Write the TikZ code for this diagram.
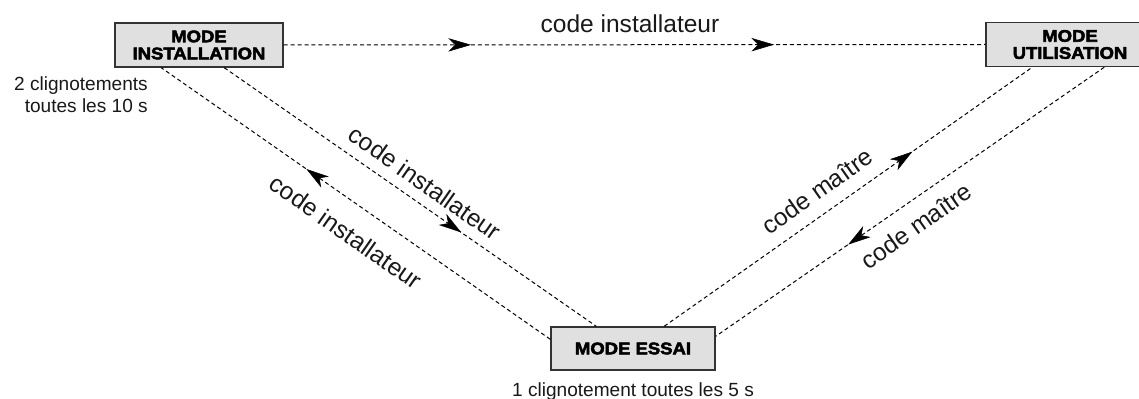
\documentclass[tikz,border=0pt]{standalone}
\usepackage{fontspec}
\setmainfont{Liberation Sans}
\newfontfamily\boxfont{Liberation Sans}[FakeStretch=1.1,BoldFeatures={FakeBold=3}]
\usetikzlibrary{arrows.meta,decorations.markings,calc}
\tikzset{
  modebox/.style={draw=black!80,line width=1.1pt,fill=black!12,minimum height=33pt,
    inner sep=0pt,align=center,font=\boxfont\bfseries\fontsize{12.6pt}{12.8pt}\selectfont},
  conn/.style={line width=0.75pt,draw=black,dash pattern=on 3pt off 2.2pt},
  tipshape/.tip={Stealth[length=17pt,width=10pt,inset=5pt,line width=0.4pt]},
  midarrow/.style={postaction={decorate},decoration={markings,
    mark=at position #1 with {\pgfsetdash{}{0pt}\arrow{tipshape}}}},
  midarrows/.style 2 args={postaction={decorate},decoration={markings,
    mark=at position #1 with {\pgfsetdash{}{0pt}\arrow{tipshape}},
    mark=at position #2 with {\pgfsetdash{}{0pt}\arrow{tipshape}}}},
  biglabel/.style={font=\fontsize{18.4pt}{20pt}\selectfont,inner sep=0pt,text=black!90},
  smalllabel/.style={font=\fontsize{14.3pt}{16.9pt}\selectfont,inner sep=0pt,text=black!90}
}
\begin{document}
\begin{tikzpicture}[x=0.75pt,y=-0.75pt]
\useasboundingbox (0,0) rectangle (1139,399);
\clip (0,0) rectangle (1139,399);
% boxes
\node[modebox,minimum width=126pt] (inst) at (199,45) {MODE\\INSTALLATION};
\node[modebox,minimum width=126pt] (util) at (1070,44.5) {MODE\\UTILISATION};
\node[modebox,minimum width=123pt,minimum height=32.25pt] (essai) at (633,348.5) {MODE ESSAI};
% captions
\node[smalllabel,align=right,anchor=north east] (capinst) at (148,76) {2 clignotements\\toutes les 10 s};
\node[smalllabel,anchor=base] (capessai) at (633,396) {1 clignotement toutes les 5 s};
% connection points
\coordinate (i1) at ($(inst.south west)+(47,0)$);
\coordinate (i2) at ($(inst.south west)+(110,0)$);
\coordinate (e1) at ($(essai.north west)+(0,13)$);
\coordinate (e2) at ($(essai.north west)+(46,0)$);
\coordinate (e3) at ($(essai.north west)+(114,0)$);
\coordinate (e4) at ($(essai.north east)+(0,10)$);
\coordinate (u1) at ($(util.south west)+(47,0)$);
\coordinate (u2) at ($(util.south west)+(119,0)$);
% connectors
\draw[conn,midarrows={0.267}{0.699}] (inst.east) -- (util.west);
\draw[conn,midarrow=0.627] (e1) -- (i1);
\draw[conn,midarrow=0.637] (i2) -- (e2);
\draw[conn,midarrow=0.674] (e3) -- (u1);
\draw[conn,midarrow=0.659] (u2) -- (e4);
% labels
\node[biglabel,anchor=base] (l0) at (630,33) {code installateur};
\node[biglabel,rotate=-35] (l1) at (425,183) {code installateur};
\node[biglabel,rotate=-35] (l2) at (346,232) {code installateur};
\node[biglabel,rotate=35] (l3) at (817,191) {code maître};
\node[biglabel,rotate=35] (l4) at (916,226) {code maître};
\end{tikzpicture}
\end{document}
